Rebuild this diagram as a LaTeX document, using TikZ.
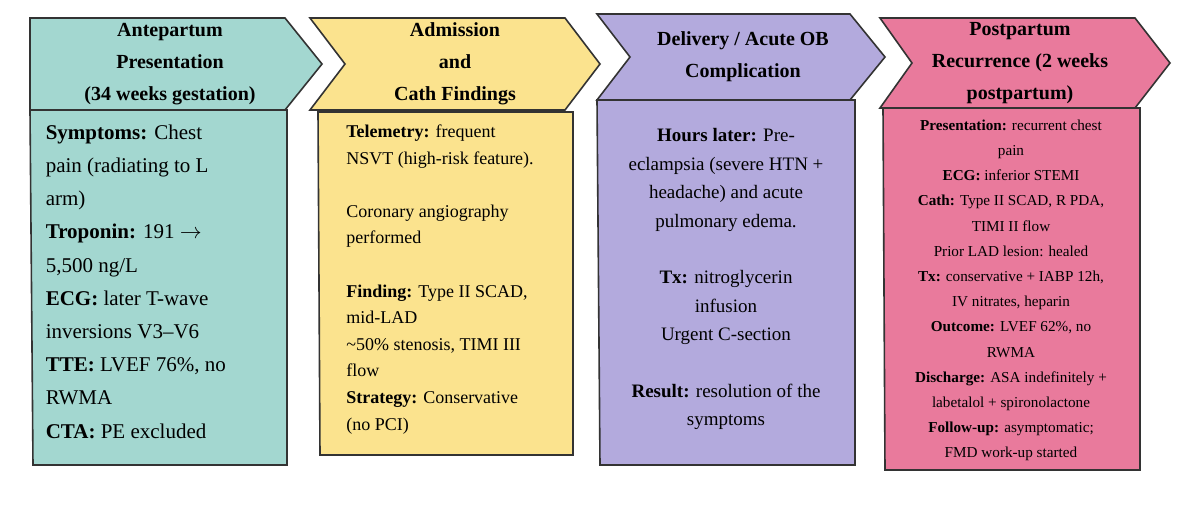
\documentclass[tikz,border=0pt]{standalone}
\usepackage{fontspec}
\setmainfont{Liberation Serif}
\usetikzlibrary{positioning}
\definecolor{tealbox}{HTML}{A3D7D0}
\definecolor{yellowbox}{HTML}{FBE38E}
\definecolor{lilacbox}{HTML}{B3AADD}
\definecolor{pinkbox}{HTML}{E97A9C}
\begin{document}
\begin{tikzpicture}[x=0.5pt, y=-0.5pt, every path/.style={draw=black!80, line width=0.8pt},
  head/.style={draw=none, align=center, font=\bfseries\fontsize{10}{16}\selectfont, inner sep=0pt},
  body/.style={draw=none, anchor=north, inner sep=0pt}]
\useasboundingbox[draw=none, fill=white] (0,0) rectangle (1200,504);

% --- Panel 1 ---
\draw[fill=tealbox] (30,18) -- (285,18) -- (322,64) -- (285,110) -- (30,110) -- cycle;
\draw[fill=tealbox] (30,110) -- (287,110) -- (287,465) -- (33,465) -- cycle;
\node[head] (h1) at (170,64) {Antepartum\\Presentation\\(34 weeks gestation)};
\node[body, anchor=north west, align=left, font=\fontsize{10.5}{16.6}\selectfont] (b1) at (45,124) {\textbf{Symptoms:} Chest\\pain (radiating to L\\arm)\\\textbf{Troponin:} 191 \(\rightarrow\)\\5,500 ng/L\\\textbf{ECG:} later T-wave\\inversions V3--V6\\\textbf{TTE:} LVEF 76\%, no\\RWMA\\\textbf{CTA:} PE excluded};

% --- Panel 2 ---
\draw[fill=yellowbox] (310,18) -- (565,18) -- (600,64) -- (565,110) -- (310,110) -- (345,64) -- cycle;
\draw[fill=yellowbox] (318,112) -- (573,112) -- (573,455) -- (320,455) -- cycle;
\node[head] (h2) at (455,64) {Admission\\and\\Cath Findings};
\node[body, align=left, font=\fontsize{9}{13.3}\selectfont] (b2) at (440,124) {\textbf{Telemetry:} frequent\\NSVT (high-risk feature).\\[13.3pt]Coronary angiography\\performed\\[13.3pt]\textbf{Finding:} Type II SCAD,\\mid-LAD\\\textasciitilde50\% stenosis, TIMI III\\flow\\\textbf{Strategy:} Conservative\\(no PCI)};

% --- Panel 3 ---
\draw[fill=lilacbox] (597,14) -- (850,14) -- (885,57) -- (850,100) -- (597,100) -- (630,57) -- cycle;
\draw[fill=lilacbox] (597,100) -- (855,100) -- (855,465) -- (600,465) -- cycle;
\node[head] (h3) at (743,57) {Delivery / Acute OB\\Complication};
\node[body, align=center, font=\fontsize{9.5}{14.2}\selectfont] (b3) at (726,128) {\textbf{Hours later:} Pre-\\eclampsia (severe HTN +\\headache) and acute\\pulmonary edema.\\[14.2pt]\textbf{Tx:} nitroglycerin\\infusion\\Urgent C-section\\[14.2pt]\textbf{Result:} resolution of the\\symptoms};

% --- Panel 4 ---
\draw[fill=pinkbox] (880,18) -- (1135,18) -- (1170,63) -- (1135,108) -- (880,108) -- (912,63) -- cycle;
\draw[fill=pinkbox] (883,108) -- (1140,108) -- (1140,470) -- (885,470) -- cycle;
\node[head] (h4) at (1020,63) {Postpartum\\Recurrence (2 weeks\\postpartum)};
\node[body, align=center, font=\fontsize{7.6}{12.6}\selectfont] (b4) at (1011,119) {\textbf{Presentation:} recurrent chest\\pain\\\textbf{ECG:} inferior STEMI\\\textbf{Cath:} Type II SCAD, R PDA,\\TIMI II flow\\Prior LAD lesion: healed\\\textbf{Tx:} conservative + IABP 12h,\\IV nitrates, heparin\\\textbf{Outcome:} LVEF 62\%, no\\RWMA\\\textbf{Discharge:} ASA indefinitely +\\labetalol + spironolactone\\\textbf{Follow-up:} asymptomatic;\\FMD work-up started};

\end{tikzpicture}
\end{document}
